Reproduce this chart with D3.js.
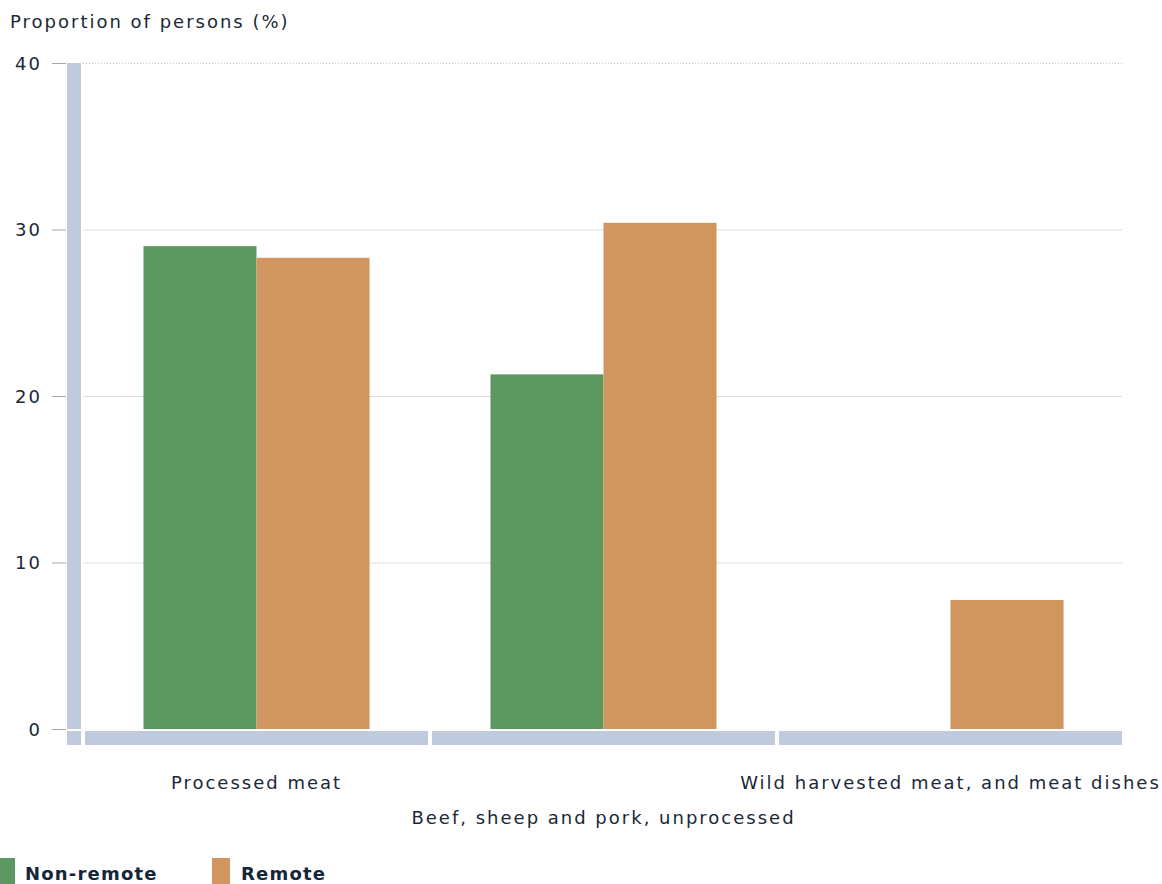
<!DOCTYPE html>
<html><head><meta charset="utf-8">
<script src="https://cdn.jsdelivr.net/npm/d3@7"></script>
<style>
html,body{margin:0;padding:0;background:#fff;}
svg{display:block;font-family:"DejaVu Sans",Verdana,sans-serif;}
</style></head>
<body>
<svg id="chart" width="1162" height="884"></svg>
<script>
const categories = ["Processed meat", "Beef, sheep and pork, unprocessed", "Wild harvested meat, and meat dishes"];
const seriesNames = ["Non-remote", "Remote"];
const nonRemote = [29.0, 21.3, null];
const remote = [28.3, 30.4, 7.75];
const yTicks = [0, 10, 20, 30, 40];
const colors = ["#5c9860", "#d19560"];

const svg = d3.select("#chart");
const textColor = "#1a2838";
const axisColor = "#bfcbdc";

const x = d3.scaleBand().domain(categories).range([83, 1124]).padding(0);
const xs = d3.scaleBand().domain(seriesNames).range([0, x.bandwidth()]).paddingInner(0).paddingOuter(0.535);
const y = d3.scaleLinear().domain([0, 40]).range([729, 63]);

// gridlines
svg.append("g").selectAll("line").data(yTicks.filter(d => d > 0)).join("line")
  .attr("x1", 83).attr("x2", 1122)
  .attr("y1", d => y(d) + 0.5).attr("y2", d => y(d) + 0.5)
  .attr("stroke", d => d === 40 ? "#c8c8c8" : "#dedede")
  .attr("stroke-dasharray", d => d === 40 ? "1,2" : null)
  .attr("stroke-width", 1);

// y-axis ticks
const yAxis = d3.axisLeft(y).tickValues(yTicks).tickSize(14).tickPadding(10).tickFormat(d3.format("d"));
const gy = svg.append("g").attr("transform", "translate(66,0)").call(yAxis);
gy.select(".domain").remove();
gy.selectAll(".tick line").attr("stroke", "#a0a8b0");
gy.selectAll(".tick text").attr("fill", textColor).attr("font-size", 18)
  .attr("font-family", "DejaVu Sans, Verdana, sans-serif").attr("dy", "0.36em").attr("letter-spacing", 2);

// y-axis thick bar
svg.append("rect").attr("x", 67).attr("y", y(40)).attr("width", 14).attr("height", y(0) - y(40)).attr("fill", axisColor);
svg.append("rect").attr("x", 67).attr("y", y(0) + 2).attr("width", 14).attr("height", 14).attr("fill", axisColor);

// x-axis segments
svg.append("g").selectAll("rect").data(categories).join("rect")
  .attr("x", d => x(d) + 2).attr("y", y(0) + 2)
  .attr("width", x.bandwidth() - 4).attr("height", 14).attr("fill", axisColor);

// bars
const seriesData = [nonRemote, remote];
seriesNames.forEach((s, si) => {
  svg.append("g").selectAll("rect")
    .data(categories.map((c, i) => ({c, v: seriesData[si][i]})).filter(d => d.v != null))
    .join("rect")
    .attr("x", d => x(d.c) + xs(s))
    .attr("y", d => y(d.v))
    .attr("width", xs.bandwidth())
    .attr("height", d => y(0) - y(d.v))
    .attr("fill", colors[si]);
});

// x labels (staggered)
svg.append("g").selectAll("text").data(categories).join("text")
  .attr("x", d => x(d) + x.bandwidth() / 2)
  .attr("y", (d, i) => i % 2 === 0 ? 789 : 824)
  .attr("text-anchor", "middle")
  .attr("font-size", 18).attr("letter-spacing", 2)
  .attr("fill", textColor)
  .text(d => d);

// y title
svg.append("text").attr("x", 10).attr("y", 28)
  .attr("font-size", 18).attr("letter-spacing", 2).attr("fill", textColor)
  .text("Proportion of persons (%)");

// legend
const legX = [0, 212];
const lg = svg.append("g").selectAll("g").data(seriesNames).join("g")
  .attr("transform", (d, i) => `translate(${legX[i]},0)`);
lg.append("rect").attr("x", (d, i) => i === 0 ? -3 : 0).attr("y", 858).attr("width", 18).attr("height", 30)
  .attr("fill", (d, i) => colors[i]);
lg.append("text").attr("x", (d, i) => i === 0 ? 25 : 29).attr("y", 880)
  .attr("font-size", 18).attr("font-weight", "bold").attr("letter-spacing", 1.2)
  .attr("fill", "#14263a").text(d => d);
</script>
</body></html>
